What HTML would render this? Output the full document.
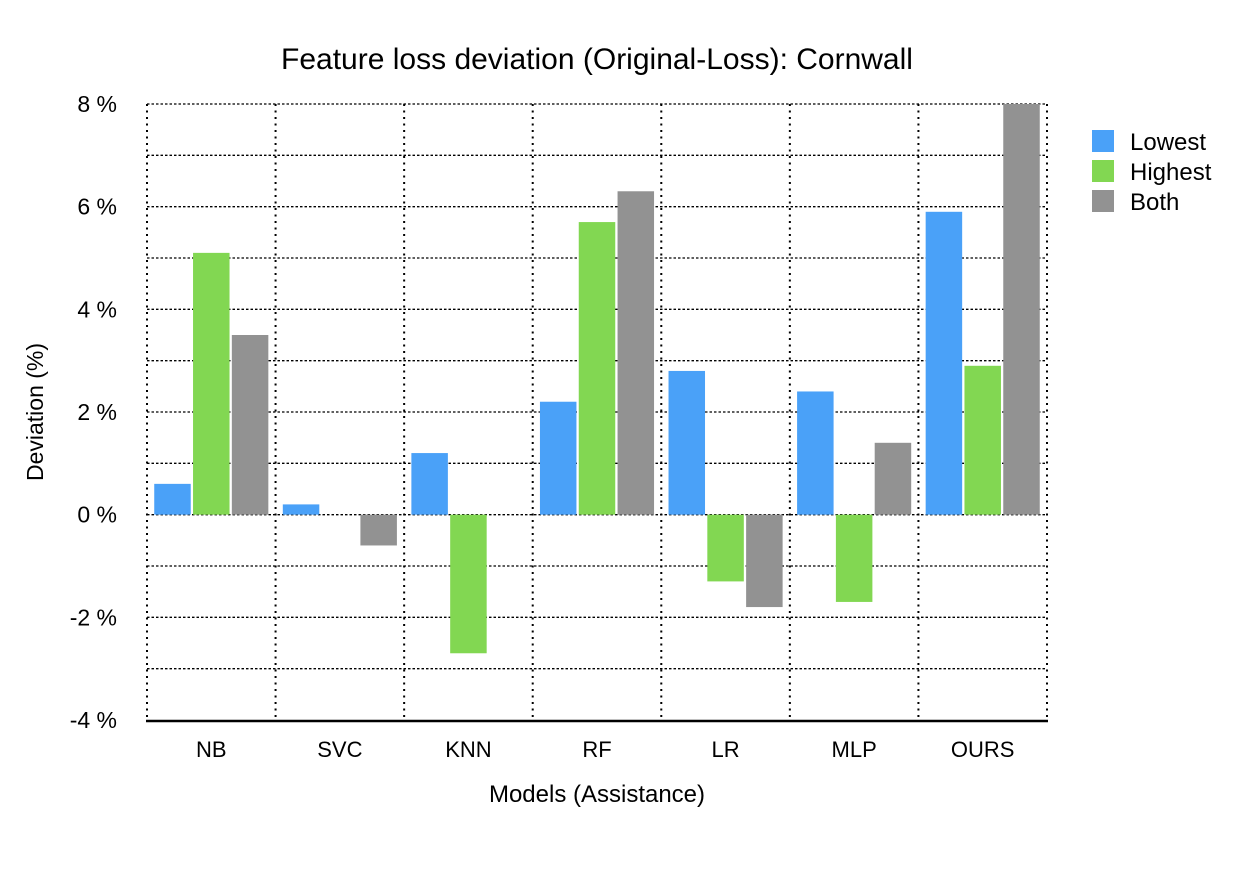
<!DOCTYPE html>
<html><head><meta charset="utf-8"><style>
body{margin:0;background:#fff;font-family:"Liberation Sans",sans-serif;}
svg text{font-family:"Liberation Sans",sans-serif;fill:#000;}
</style></head><body>
<svg id="chart" width="1238" height="868" xmlns="http://www.w3.org/2000/svg">
<text x="597" y="69" font-size="30" text-anchor="middle">Feature loss deviation (Original-Loss): Cornwall</text>
<text transform="translate(43,412) rotate(-90)" font-size="23" text-anchor="middle">Deviation (%)</text>
<text x="597" y="802" font-size="24" text-anchor="middle">Models (Assistance)</text>
<g id="grid"></g><g id="bars"></g><g id="axes"></g>
<g>
<rect x="1092" y="130" width="22" height="22" fill="#4aa1f8"/><text x="1130" y="150" font-size="24">Lowest</text>
<rect x="1092" y="160" width="22" height="22" fill="#82d752"/><text x="1130" y="180" font-size="24">Highest</text>
<rect x="1092" y="190" width="22" height="22" fill="#929292"/><text x="1130" y="210" font-size="24">Both</text>
</g>
</svg>
<script>
const categories=["NB","SVC","KNN","RF","LR","MLP","OURS"];
const lowest=[0.6,0.2,1.2,2.2,2.8,2.4,5.9];
const highest=[5.1,0,-2.7,5.7,-1.3,-1.7,2.9];
const both=[3.5,-0.6,0,6.3,-1.8,1.4,8.0];
const yTicks=[-4,-2,0,2,4,6,8];
const seriesNames=["lowest","highest","both"];
const colors=["#4aa1f8","#82d752","#929292"];
const X0=147,X1=1047,Y0=720,Y1=104,vMin=-4,vMax=8;
const NS="http://www.w3.org/2000/svg";
function y(v){return Y0-(v-vMin)/(vMax-vMin)*(Y0-Y1);}
const gw=(X1-X0)/categories.length;
function gx(i){return X0+i*gw;}
function mk(t,a,p){const e=document.createElementNS(NS,t);for(const k in a)e.setAttribute(k,a[k]);p.appendChild(e);return e;}
const grid=document.getElementById('grid'),bars=document.getElementById('bars'),axes=document.getElementById('axes');
for(let v=vMin+1;v<=vMax;v++){
 const l=mk('line',{x1:X0,x2:X1,y1:y(v),y2:y(v),stroke:'#000','stroke-width':1.3,'stroke-dasharray':'2.5,2'},grid);
 
 
}
for(let i=0;i<=categories.length;i++){
 const l=mk('line',{x1:gx(i),x2:gx(i),y1:Y1,y2:Y0,stroke:'#000','stroke-width':2,'stroke-dasharray':'2,4.5','stroke-linecap':'butt'},grid);
 
 
}
const data=[lowest,highest,both];
const bw=36.5,gap=2.3,pad=(gw-3*bw-2*gap)/2;
categories.forEach((c,i)=>{
 data.forEach((s,j)=>{
  const v=s[i];if(v===0)return;
  const x=gx(i)+pad+j*(bw+gap);
  const r=mk('rect',{x:x,y:Math.min(y(v),y(0)),width:bw,height:Math.abs(y(v)-y(0)),fill:colors[j]},bars);
  
  
 });
 const t=mk('text',{x:gx(i)+gw/2,y:757,'font-size':22,'text-anchor':'middle'},axes);
 t.textContent=c;
 
 
});
yTicks.forEach(v=>{
 const t=mk('text',{x:117,y:y(v)+8,'font-size':23,'text-anchor':'end'},axes);
 t.textContent=v+' %';
 
 
});
const ax=mk('line',{x1:X0-1,x2:X1+1,y1:Y0+1,y2:Y0+1,stroke:'#000','stroke-width':2.5},axes);


</script>
</body></html>
